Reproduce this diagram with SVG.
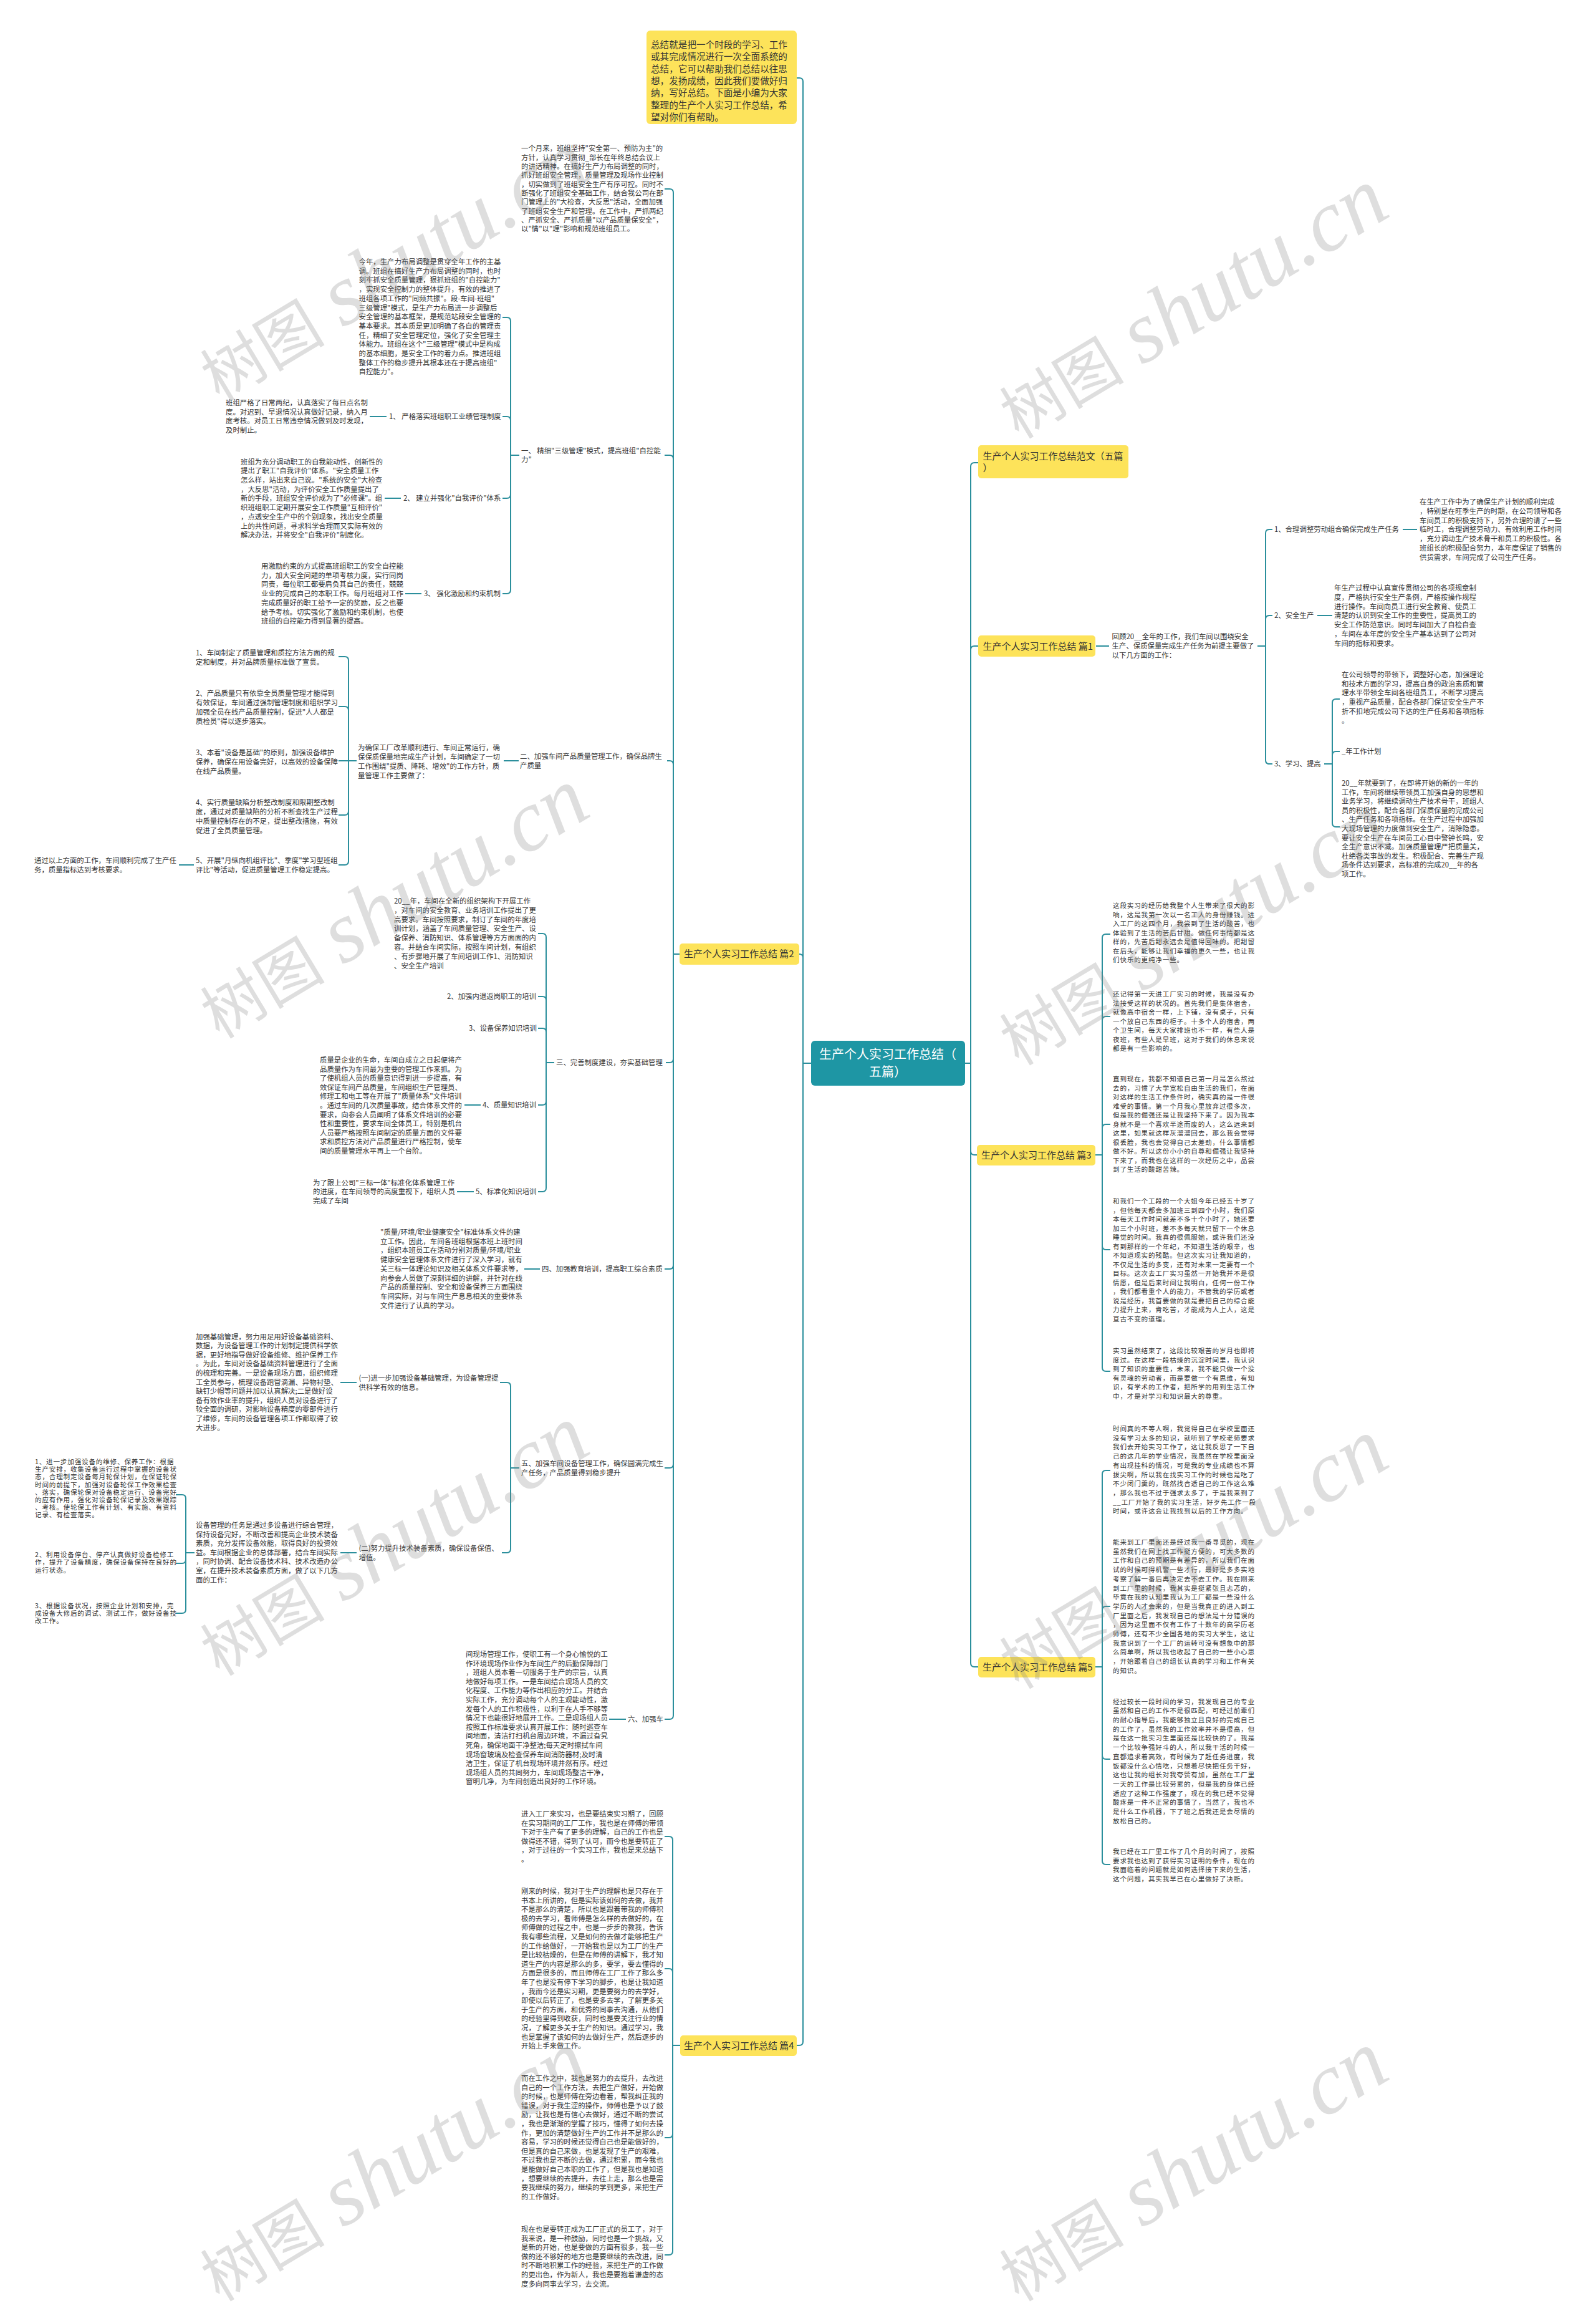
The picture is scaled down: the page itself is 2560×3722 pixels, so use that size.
<svg xmlns="http://www.w3.org/2000/svg" width="2560" height="3722" viewBox="0 0 2560 3722">
<style>
.p{font-family:"Noto Sans CJK SC","Noto Sans",sans-serif;font-size:11.4px;fill:#333}
.q{font-family:"Noto Sans CJK SC","Noto Sans",sans-serif;font-size:10.6px;letter-spacing:0.8px;fill:#333}
.m{font-family:"Noto Sans CJK SC","Noto Sans",sans-serif;font-size:15px;fill:#333}
.i{font-family:"Noto Sans CJK SC","Noto Sans",sans-serif;font-size:14.6px;fill:#333}
.r{font-family:"Noto Sans CJK SC","Noto Sans",sans-serif;font-size:20px;fill:#fff}
.y{fill:#fde35a}
.c{fill:none;stroke:#2b8f9c;stroke-width:2}
.wm{fill:#808080;fill-opacity:0.26}
.wa{font-family:"Noto Sans CJK SC",sans-serif;font-size:100px}
.wb{font-family:"Liberation Serif",serif;font-style:italic;font-size:140px}
</style>
<rect width="2560" height="3722" fill="#fff"/>
<g id="connectors" class="c">
<path d="M1301 1705H1288V131Q1288 125 1282 125H1278"/>
<path d="M1301 1705H1288V1536Q1288 1530 1282 1530"/>
<path d="M1301 1705H1288V3274Q1288 3280 1282 3280H1278"/>
<path d="M1548 1705H1557V748Q1557 742 1563 742H1569"/>
<path d="M1548 1705H1557V1042Q1557 1036 1563 1036H1569"/>
<path d="M1548 1705H1557V1846Q1557 1852 1563 1852H1567"/>
<path d="M1548 1705H1557V2667Q1557 2673 1563 2673H1569"/>
<path d="M1090 1530H1080V309Q1080 303 1074 303H1066"/>
<path d="M1090 1530H1080V736Q1080 730 1074 730H1066"/>
<path d="M1090 1530H1080V1226Q1080 1220 1074 1220H1070"/>
<path d="M1090 1530H1080V1698Q1080 1704 1074 1704H1068"/>
<path d="M1090 1530H1080V2029Q1080 2035 1074 2035H1066"/>
<path d="M1090 1530H1080V2348Q1080 2354 1074 2354H1066"/>
<path d="M1090 1530H1080V2751Q1080 2757 1074 2757H1066"/>
<path d="M833 730H819V515Q819 509 813 509H806"/>
<path d="M833 730H819V674Q819 668 813 668H806"/>
<path d="M833 730H819V793Q819 799 813 799H806"/>
<path d="M833 730H819V946Q819 952 813 952H806"/>
<path d="M620 668H593"/>
<path d="M643 799H617"/>
<path d="M676 952H650"/>
<path d="M832 1220H808"/>
<path d="M572 1220H559V1059Q559 1053 553 1053H543"/>
<path d="M572 1220H559V1139Q559 1133 553 1133H543"/>
<path d="M572 1220H543"/>
<path d="M572 1220H559V1301Q559 1307 553 1307H543"/>
<path d="M572 1220H559V1381Q559 1387 553 1387H543"/>
<path d="M311 1387H287"/>
<path d="M889 1704H876V1503Q876 1497 870 1497H863"/>
<path d="M889 1704H876V1604Q876 1598 870 1598H863"/>
<path d="M889 1704H876V1655Q876 1649 870 1649H863"/>
<path d="M889 1704H876V1766Q876 1772 870 1772H863"/>
<path d="M889 1704H876V1905Q876 1911 870 1911H863"/>
<path d="M771 1772H745"/>
<path d="M760 1911H733"/>
<path d="M866 2035H841"/>
<path d="M833 2354H819V2223Q819 2217 813 2217H802"/>
<path d="M833 2354H819V2484Q819 2490 813 2490H805"/>
<path d="M572 2217H546"/>
<path d="M572 2490H546"/>
<path d="M312 2490H298V2403Q298 2397 292 2397H282"/>
<path d="M312 2490H298V2501Q298 2507 292 2507H282"/>
<path d="M312 2490H298V2581Q298 2587 292 2587H282"/>
<path d="M1004 2757H977"/>
<path d="M1091 3280H1079V2951Q1079 2945 1073 2945H1066"/>
<path d="M1091 3280H1079V3163Q1079 3157 1073 3157H1066"/>
<path d="M1091 3280H1079V3422Q1079 3428 1073 3428H1066"/>
<path d="M1091 3280H1079V3610Q1079 3616 1073 3616H1066"/>
<path d="M1758 1036H1779"/>
<path d="M2017 1036H2030V855Q2030 849 2036 849H2041"/>
<path d="M2017 1036H2030V993Q2030 987 2036 987H2041"/>
<path d="M2017 1036H2030V1219Q2030 1225 2036 1225H2041"/>
<path d="M2250 849H2273"/>
<path d="M2113 987H2137"/>
<path d="M2124 1225H2137V1127Q2137 1121 2143 1121H2149"/>
<path d="M2124 1225H2137V1211Q2137 1205 2143 1205H2149"/>
<path d="M2124 1225H2137V1320Q2137 1326 2143 1326H2149"/>
<path d="M1757 1852H1768V1504Q1768 1498 1774 1498H1781"/>
<path d="M1757 1852H1768V1636Q1768 1630 1774 1630H1781"/>
<path d="M1757 1852H1768V1809Q1768 1803 1774 1803H1781"/>
<path d="M1757 1852H1768V1998Q1768 2004 1774 2004H1781"/>
<path d="M1757 1852H1768V2193Q1768 2199 1774 2199H1781"/>
<path d="M1757 2673H1768V2364Q1768 2358 1774 2358H1781"/>
<path d="M1757 2673H1768V2582Q1768 2576 1774 2576H1781"/>
<path d="M1757 2673H1768V2815Q1768 2821 1774 2821H1781"/>
<path d="M1757 2673H1768V2984Q1768 2990 1774 2990H1781"/>
</g>

<g id="root">
<rect x="1301" y="1669" width="247" height="72" rx="6" fill="#1e96a4"/>
<text class="r" text-anchor="middle" x="1424" y="1698">生产个人实习工作总结（<tspan x="1424" dy="28">五篇）</tspan></text>
</g>

<g id="intro">
<rect class="y" x="1037" y="49" width="241" height="150" rx="6"/>
<text class="i" x="1044" y="77"><tspan x="1044">总结就是把一个时段的学习、工作</tspan><tspan x="1044" dy="19.3">或其完成情况进行一次全面系统的</tspan><tspan x="1044" dy="19.3">总结，它可以帮助我们总结以往思</tspan><tspan x="1044" dy="19.3">想，发扬成绩，因此我们要做好归</tspan><tspan x="1044" dy="19.3">纳，写好总结。下面是小编为大家</tspan><tspan x="1044" dy="19.3">整理的生产个人实习工作总结，希</tspan><tspan x="1044" dy="19.3">望对你们有帮助。</tspan></text>
</g>

<g id="pian2">
<rect class="y" x="1090" y="1513" width="192" height="34" rx="5"/>
<text class="m" x="1097" y="1535">生产个人实习工作总结 篇2</text>
</g>

<g id="p2-intro">
<text class="p" x="836" y="242.3"><tspan x="836">一个月来，班组坚持"安全第一、预防为主"的</tspan><tspan x="836" dy="14.35">方针，认真学习贯彻_部长在年终总结会议上</tspan><tspan x="836" dy="14.35">的讲话精神。在搞好生产力布局调整的同时，</tspan><tspan x="836" dy="14.35">抓好班组安全管理，质量管理及现场作业控制</tspan><tspan x="836" dy="14.35">，切实做到了班组安全生产有序可控。同时不</tspan><tspan x="836" dy="14.35">断强化了班组安全基础工作，结合我公司在部</tspan><tspan x="836" dy="14.35">门管理上的"大检查，大反思"活动，全面加强</tspan><tspan x="836" dy="14.35">了班组安全生产和管理。在工作中，严抓两纪</tspan><tspan x="836" dy="14.35">、严抓安全、严抓质量"以产品质量保安全"，</tspan><tspan x="836" dy="14.35">以"情"以"理"影响和规范班组员工。</tspan></text>
</g>

<g id="s1">
<text class="p" x="836" y="727"><tspan x="836">一、 精细"三级管理"模式，提高班组"自控能</tspan><tspan x="836" dy="14">力"</tspan></text>
</g>
<g id="s1-p">
<text class="p" x="575.5" y="424"><tspan x="575.5">今年，生产力布局调整是贯穿全年工作的主基</tspan><tspan x="575.5" dy="14.7">调。班组在搞好生产力布局调整的同时，也时</tspan><tspan x="575.5" dy="14.7">刻牢抓安全质量管理，狠抓班组的"自控能力"</tspan><tspan x="575.5" dy="14.7">，实现安全控制力的整体提升，有效的推进了</tspan><tspan x="575.5" dy="14.7">班组各项工作的"同频共振"。段-车间-班组"</tspan><tspan x="575.5" dy="14.7">三级管理"模式，是生产力布局进一步调整后</tspan><tspan x="575.5" dy="14.7">安全管理的基本框架，是规范站段安全管理的</tspan><tspan x="575.5" dy="14.7">基本要求。其本质是更加明确了各自的管理责</tspan><tspan x="575.5" dy="14.7">任，精细了安全管理定位，强化了安全管理主</tspan><tspan x="575.5" dy="14.7">体能力。班组在这个"三级管理"模式中是构成</tspan><tspan x="575.5" dy="14.7">的基本细胞，是安全工作的着力点。推进班组</tspan><tspan x="575.5" dy="14.7">整体工作的稳步提升其根本还在于提高班组"</tspan><tspan x="575.5" dy="14.7">自控能力"。</tspan></text>
</g>
<g id="s1-1"><text class="p" x="624" y="672">1、 严格落实班组职工业绩管理制度</text></g>
<g id="s1-1p">
<text class="p" x="362" y="650"><tspan x="362">班组严格了日常两纪，认真落实了每日点名制</tspan><tspan x="362" dy="14.7">度。对迟到、早退情况认真做好记录，纳入月</tspan><tspan x="362" dy="14.7">度考核。对员工日常违章情况做到及时发现，</tspan><tspan x="362" dy="14.7">及时制止。</tspan></text>
</g>
<g id="s1-2"><text class="p" x="647" y="803">2、 建立并强化"自我评价"体系</text></g>
<g id="s1-2p">
<text class="p" x="386" y="744.6"><tspan x="386">班组为充分调动职工的自我能动性，创新性的</tspan><tspan x="386" dy="14.7">提出了职工"自我评价"体系。"安全质量工作</tspan><tspan x="386" dy="14.7">怎么样，站出来自己说。"系统的安全"大检查</tspan><tspan x="386" dy="14.7">，大反思"活动，为评价安全工作质量提出了</tspan><tspan x="386" dy="14.7">新的手段，班组安全评价成为了"必修课"。组</tspan><tspan x="386" dy="14.7">织班组职工定期开展安全工作质量"互相评价"</tspan><tspan x="386" dy="14.7">，点透安全生产中的个别现象，找出安全质量</tspan><tspan x="386" dy="14.7">上的共性问题，寻求科学合理而又实际有效的</tspan><tspan x="386" dy="14.7">解决办法，并将安全"自我评价"制度化。</tspan></text>
</g>
<g id="s1-3"><text class="p" x="680" y="956">3、 强化激励和约束机制</text></g>
<g id="s1-3p">
<text class="p" x="419" y="912"><tspan x="419">用激励约束的方式提高班组职工的安全自控能</tspan><tspan x="419" dy="14.7">力，加大安全问题的单项考核力度，实行同岗</tspan><tspan x="419" dy="14.7">同责，每位职工都要肩负其自己的责任，兢兢</tspan><tspan x="419" dy="14.7">业业的完成自己的本职工作。每月班组对工作</tspan><tspan x="419" dy="14.7">完成质量好的职工给予一定的奖励，反之也要</tspan><tspan x="419" dy="14.7">给予考核。切实强化了激励和约束机制，也使</tspan><tspan x="419" dy="14.7">班组的自控能力得到显著的提高。</tspan></text>
</g>

<g id="s2">
<text class="p" x="834" y="1217"><tspan x="834">二、加强车间产品质量管理工作，确保品牌生</tspan><tspan x="834" dy="15">产质量</tspan></text>
</g>
<g id="s2-p">
<text class="p" x="574" y="1203"><tspan x="574">为确保工厂改革顺利进行、车间正常运行，确</tspan><tspan x="574" dy="15">保保质保量地完成生产计划，车间确定了一切</tspan><tspan x="574" dy="15">工作围绕"提质、降耗、增效"的工作方针，质</tspan><tspan x="574" dy="15">量管理工作主要做了：</tspan></text>
</g>
<g id="s2-1"><text class="p" x="314" y="1051"><tspan x="314">1、车间制定了质量管理和质控方法方面的规</tspan><tspan x="314" dy="15.3">定和制度，并对品牌质量标准做了宣贯。</tspan></text></g>
<g id="s2-2"><text class="p" x="314" y="1116"><tspan x="314">2、产品质量只有依靠全员质量管理才能得到</tspan><tspan x="314" dy="15">有效保证，车间通过强制管理制度和组织学习</tspan><tspan x="314" dy="15">加强全员在线产品质量控制，促进"人人都是</tspan><tspan x="314" dy="15">质检员"得以逐步落实。</tspan></text></g>
<g id="s2-3"><text class="p" x="314" y="1211"><tspan x="314">3、本着"设备是基础"的原则，加强设备维护</tspan><tspan x="314" dy="15">保养，确保在用设备完好，以高效的设备保障</tspan><tspan x="314" dy="15">在线产品质量。</tspan></text></g>
<g id="s2-4"><text class="p" x="314" y="1291"><tspan x="314">4、实行质量缺陷分析整改制度和限期整改制</tspan><tspan x="314" dy="15">度，通过对质量缺陷的分析不断查找生产过程</tspan><tspan x="314" dy="15">中质量控制存在的不足，提出整改措施，有效</tspan><tspan x="314" dy="15">促进了全员质量管理。</tspan></text></g>
<g id="s2-5"><text class="p" x="314" y="1384"><tspan x="314">5、开展"月纵向机组评比"、季度"学习型班组</tspan><tspan x="314" dy="15">评比"等活动，促进质量管理工作稳定提高。</tspan></text></g>
<g id="s2-5p"><text class="p" x="55" y="1384"><tspan x="55">通过以上方面的工作，车间顺利完成了生产任</tspan><tspan x="55" dy="15">务，质量指标达到考核要求。</tspan></text></g>

<g id="s3"><text class="p" x="892" y="1708">三、完善制度建设，夯实基础管理</text></g>
<g id="s3-1">
<text class="p" x="632" y="1449"><tspan x="632">20__年，车间在全新的组织架构下开展工作</tspan><tspan x="632" dy="14.8">，对车间的安全教育、业务培训工作提出了更</tspan><tspan x="632" dy="14.8">高要求。车间按照要求，制订了车间的年度培</tspan><tspan x="632" dy="14.8">训计划，涵盖了车间质量管理、安全生产、设</tspan><tspan x="632" dy="14.8">备保养、消防知识、体系管理等方方面面的内</tspan><tspan x="632" dy="14.8">容。并结合车间实际，按照车间计划，有组织</tspan><tspan x="632" dy="14.8">、有步骤地开展了车间培训工作1、消防知识</tspan><tspan x="632" dy="14.8">、安全生产培训</tspan></text>
</g>
<g id="s3-2"><text class="p" x="717" y="1602">2、加强内退返岗职工的培训</text></g>
<g id="s3-3"><text class="p" x="752" y="1653">3、设备保养知识培训</text></g>
<g id="s3-4"><text class="p" x="774" y="1776">4、质量知识培训</text></g>
<g id="s3-4p">
<text class="p" x="513" y="1704"><tspan x="513">质量是企业的生命，车间自成立之日起便将产</tspan><tspan x="513" dy="14.6">品质量作为车间最为重要的管理工作来抓。为</tspan><tspan x="513" dy="14.6">了使机组人员的质量意识得到进一步提高，有</tspan><tspan x="513" dy="14.6">效保证车间产品质量，车间组织生产管理员、</tspan><tspan x="513" dy="14.6">修理工和电工等在开展了"质量体系"文件培训</tspan><tspan x="513" dy="14.6">。通过车间的几次质量事故，结合体系文件的</tspan><tspan x="513" dy="14.6">要求，向参会人员阐明了体系文件培训的必要</tspan><tspan x="513" dy="14.6">性和重要性，要求车间全体员工，特别是机台</tspan><tspan x="513" dy="14.6">人员要严格按照车间制定的质量方面的文件要</tspan><tspan x="513" dy="14.6">求和质控方法对产品质量进行严格控制，使车</tspan><tspan x="513" dy="14.6">间的质量管理水平再上一个台阶。</tspan></text>
</g>
<g id="s3-5"><text class="p" x="763" y="1915">5、标准化知识培训</text></g>
<g id="s3-5p">
<text class="p" x="502" y="1901"><tspan x="502">为了跟上公司"三标一体"标准化体系管理工作</tspan><tspan x="502" dy="14.3">的进度，在车间领导的高度重视下，组织人员</tspan><tspan x="502" dy="14.3">完成了车间</tspan></text>
</g>

<g id="s4"><text class="p" x="869" y="2039">四、加强教育培训，提高职工综合素质</text></g>
<g id="s4-p">
<text class="p" x="610" y="1980"><tspan x="610">"质量/环境/职业健康安全"标准体系文件的建</tspan><tspan x="610" dy="14.7">立工作。因此，车间各班组根据本班上班时间</tspan><tspan x="610" dy="14.7">，组织本班员工在活动分别对质量/环境/职业</tspan><tspan x="610" dy="14.7">健康安全管理体系文件进行了深入学习，就有</tspan><tspan x="610" dy="14.7">关三标一体理论知识及相关体系文件要求等，</tspan><tspan x="610" dy="14.7">向参会人员做了深刻详细的讲解，并针对在线</tspan><tspan x="610" dy="14.7">产品的质量控制、安全和设备保养三方面围绕</tspan><tspan x="610" dy="14.7">车间实际，对与车间生产息息相关的重要体系</tspan><tspan x="610" dy="14.7">文件进行了认真的学习。</tspan></text>
</g>

<g id="s5">
<text class="p" x="836" y="2351"><tspan x="836">五、加强车间设备管理工作，确保圆满完成生</tspan><tspan x="836" dy="14.5">产任务，产品质量得到稳步提升</tspan></text>
</g>
<g id="s5-1"><text class="p" x="575.5" y="2214"><tspan x="575.5">(一)进一步加强设备基础管理，为设备管理提</tspan><tspan x="575.5" dy="14.5">供科学有效的信息。</tspan></text></g>
<g id="s5-1p">
<text class="p" x="314" y="2147.5"><tspan x="314">加强基础管理，努力用足用好设备基础资料、</tspan><tspan x="314" dy="14.6">数据，为设备管理工作的计划制定提供科学依</tspan><tspan x="314" dy="14.6">据，更好地指导做好设备维修、维护保养工作</tspan><tspan x="314" dy="14.6">。为此，车间对设备基础资料管理进行了全面</tspan><tspan x="314" dy="14.6">的梳理和完善。一是设备现场方面，组织修理</tspan><tspan x="314" dy="14.6">工全员参与，梳理设备跑冒滴漏、异物衬垫、</tspan><tspan x="314" dy="14.6">缺钉少帽等问题并加以认真解决;二是做好设</tspan><tspan x="314" dy="14.6">备有效作业率的提升，组织人员对设备进行了</tspan><tspan x="314" dy="14.6">较全面的调研，对影响设备精度的零部件进行</tspan><tspan x="314" dy="14.6">了维修，车间的设备管理各项工作都取得了较</tspan><tspan x="314" dy="14.6">大进步。</tspan></text>
</g>
<g id="s5-2"><text class="p" x="575.5" y="2487"><tspan x="575.5">(二)努力提升技术装备素质，确保设备保值、</tspan><tspan x="575.5" dy="14.5">增值。</tspan></text></g>
<g id="s5-2p">
<text class="p" x="314" y="2450"><tspan x="314">设备管理的任务是通过多设备进行综合管理，</tspan><tspan x="314" dy="14.6">保持设备完好，不断改善和提高企业技术装备</tspan><tspan x="314" dy="14.6">素质，充分发挥设备效能，取得良好的投资效</tspan><tspan x="314" dy="14.6">益。车间根据企业的总体部署，结合车间实际</tspan><tspan x="314" dy="14.6">，同时协调、配合设备技术科、技术改造办公</tspan><tspan x="314" dy="14.6">室，在提升技术装备素质方面，做了以下几方</tspan><tspan x="314" dy="14.6">面的工作：</tspan></text>
</g>
<g id="s5-2-1">
<text class="q" x="56" y="2348"><tspan x="56">1、进一步加强设备的维修、保养工作：根据</tspan><tspan x="56" dy="12.2">生产安排，收集设备运行过程中掌握的设备状</tspan><tspan x="56" dy="12.2">态，合理制定设备每月轮保计划，在保证轮保</tspan><tspan x="56" dy="12.2">时间的前提下，加强对设备轮保工作效果检查</tspan><tspan x="56" dy="12.2">、落实，确保轮保对设备稳定运行、设备完好</tspan><tspan x="56" dy="12.2">的应有作用，强化对设备轮保记录及效果跟踪</tspan><tspan x="56" dy="12.2">、考核。使轮保工作有计划、有实施、有资料</tspan><tspan x="56" dy="12.2">记录、有检查落实。</tspan></text>
</g>
<g id="s5-2-2">
<text class="q" x="56" y="2497"><tspan x="56">2、利用设备停台、停产认真做好设备检修工</tspan><tspan x="56" dy="12.4">作，提升了设备精度，确保设备保持在良好的</tspan><tspan x="56" dy="12.4">运行状态。</tspan></text>
</g>
<g id="s5-2-3">
<text class="q" x="56" y="2579"><tspan x="56">3、根据设备状况，按照企业计划和安排，完</tspan><tspan x="56" dy="12.2">成设备大修后的调试、测试工作，做好设备技</tspan><tspan x="56" dy="12.2">改工作。</tspan></text>
</g>

<g id="s6"><text class="p" x="1007" y="2761">六、加强车</text></g>
<g id="s6-p">
<text class="p" x="747" y="2657"><tspan x="747">间现场管理工作，使职工有一个身心愉悦的工</tspan><tspan x="747" dy="14.6">作环境现场作业作为车间生产的后勤保障部门</tspan><tspan x="747" dy="14.6">，班组人员本着一切服务于生产的宗旨，认真</tspan><tspan x="747" dy="14.6">地做好每项工作。一是车间结合现场人员的文</tspan><tspan x="747" dy="14.6">化程度、工作能力等作出相应的分工。并结合</tspan><tspan x="747" dy="14.6">实际工作，充分调动每个人的主观能动性，激</tspan><tspan x="747" dy="14.6">发每个人的工作积极性，以利于在人手不够等</tspan><tspan x="747" dy="14.6">情况下也能很好地展开工作。二是现场组人员</tspan><tspan x="747" dy="14.6">按照工作标准要求认真开展工作：随时巡查车</tspan><tspan x="747" dy="14.6">间地面，清洁打扫机台周边环境，不漏过旮旯</tspan><tspan x="747" dy="14.6">死角，确保地面干净整洁;每天定时擦拭车间</tspan><tspan x="747" dy="14.6">现场窗玻璃及检查保养车间消防器材;及时清</tspan><tspan x="747" dy="14.6">洁卫生，保证了机台现场环境井然有序。经过</tspan><tspan x="747" dy="14.6">现场组人员的共同努力，车间现场整洁干净，</tspan><tspan x="747" dy="14.6">窗明几净，为车间创造出良好的工作环境。</tspan></text>
</g>

<g id="pian4">
<rect class="y" x="1091" y="3264" width="187" height="33" rx="5"/>
<text class="m" x="1097" y="3285.5">生产个人实习工作总结 篇4</text>
</g>
<g id="p4-1">
<text class="p" x="836" y="2913"><tspan x="836">进入工厂来实习，也是要结束实习期了，回顾</tspan><tspan x="836" dy="14.5">在实习期间的工厂工作，我也是在师傅的带领</tspan><tspan x="836" dy="14.5">下对于生产有了更多的理解，自己的工作也是</tspan><tspan x="836" dy="14.5">做得还不错，得到了认可，而今也是要转正了</tspan><tspan x="836" dy="14.5">，对于过往的一个实习工作，我也是来总结下</tspan><tspan x="836" dy="14.5">。</tspan></text>
</g>
<g id="p4-2">
<text class="p" x="836" y="3037"><tspan x="836">刚来的时候，我对于生产的理解也是只存在于</tspan><tspan x="836" dy="14.6">书本上所讲的，但是实际该如何的去做，我并</tspan><tspan x="836" dy="14.6">不是那么的清楚，所以也是跟着带我的师傅积</tspan><tspan x="836" dy="14.6">极的去学习，看师傅是怎么样的去做好的，在</tspan><tspan x="836" dy="14.6">师傅做的过程之中，也是一步步的教我，告诉</tspan><tspan x="836" dy="14.6">我有哪些流程，又是如何的去做才能够把生产</tspan><tspan x="836" dy="14.6">的工作给做好，一开始我也是以为工厂的生产</tspan><tspan x="836" dy="14.6">是比较枯燥的，但是在师傅的讲解下，我才知</tspan><tspan x="836" dy="14.6">道生产的内容是那么的多，要学，要去懂得的</tspan><tspan x="836" dy="14.6">方面是很多的，而且师傅在工厂工作了那么多</tspan><tspan x="836" dy="14.6">年了也是没有停下学习的脚步，也是让我知道</tspan><tspan x="836" dy="14.6">，我而今还是实习期，更是要努力的去学好，</tspan><tspan x="836" dy="14.6">即使以后转正了，也是要多去学，了解更多关</tspan><tspan x="836" dy="14.6">于生产的方面，和优秀的同事去沟通，从他们</tspan><tspan x="836" dy="14.6">的经验里得到收获，同时也是要关注行业的情</tspan><tspan x="836" dy="14.6">况，了解更多关于生产的知识。通过学习，我</tspan><tspan x="836" dy="14.6">也是掌握了该如何的去做好生产，然后逐步的</tspan><tspan x="836" dy="14.6">开始上手来做工作。</tspan></text>
</g>
<g id="p4-3">
<text class="p" x="836" y="3337"><tspan x="836">而在工作之中，我也是努力的去提升，去改进</tspan><tspan x="836" dy="14.6">自己的一个工作方法，去把生产做好，开始做</tspan><tspan x="836" dy="14.6">的时候，也是师傅在旁边看着，帮我纠正我的</tspan><tspan x="836" dy="14.6">错误，对于我生涩的操作，师傅也是予以了鼓</tspan><tspan x="836" dy="14.6">励，让我也是有信心去做好，通过不断的尝试</tspan><tspan x="836" dy="14.6">，我也是渐渐的掌握了技巧，懂得了如何去操</tspan><tspan x="836" dy="14.6">作，更加的清楚做好生产的工作并不是那么的</tspan><tspan x="836" dy="14.6">容易，学习的时候还觉得自己也是能做好的，</tspan><tspan x="836" dy="14.6">但是真的自己来做，也是发现了生产的艰难，</tspan><tspan x="836" dy="14.6">不过我也是不断的去做，通过积累，而今我也</tspan><tspan x="836" dy="14.6">是能做好自己本职的工作了，但是我也是知道</tspan><tspan x="836" dy="14.6">，想要继续的去提升，去往上走，那么也是需</tspan><tspan x="836" dy="14.6">要我继续的努力，继续的学到更多，来把生产</tspan><tspan x="836" dy="14.6">的工作做好。</tspan></text>
</g>
<g id="p4-4">
<text class="p" x="836" y="3579"><tspan x="836">现在也是要转正成为工厂正式的员工了，对于</tspan><tspan x="836" dy="14.6">我来说，是一种鼓励，同时也是一个挑战，又</tspan><tspan x="836" dy="14.6">是新的开始，也是要做的方面有很多，我一些</tspan><tspan x="836" dy="14.6">做的还不够好的地方也是要继续的去改进，同</tspan><tspan x="836" dy="14.6">时不断地积累工作的经验，来把生产的工作做</tspan><tspan x="836" dy="14.6">的更出色，作为新人，我也是要抱着谦虚的态</tspan><tspan x="836" dy="14.6">度多向同事去学习，去交流。</tspan></text>
</g>

<g id="fanwen">
<rect class="y" x="1569" y="714" width="241" height="53" rx="5"/>
<text class="m" x="1576.5" y="737"><tspan x="1576.5">生产个人实习工作总结范文（五篇</tspan><tspan x="1576.5" dy="18.5">）</tspan></text>
</g>

<g id="pian1">
<rect class="y" x="1569" y="1019" width="188" height="34" rx="5"/>
<text class="m" x="1576.5" y="1041.5">生产个人实习工作总结 篇1</text>
</g>
<g id="p1-intro">
<text class="p" x="1783.6" y="1025"><tspan x="1783.6">回顾20__全年的工作，我们车间以围绕安全</tspan><tspan x="1783.6" dy="15">生产、保质保量完成生产任务为前提主要做了</tspan><tspan x="1783.6" dy="15">以下几方面的工作：</tspan></text>
</g>
<g id="p1-1"><text class="p" x="2044" y="853">1、合理调整劳动组合确保完成生产任务</text></g>
<g id="p1-1p">
<text class="p" x="2277" y="809"><tspan x="2277">在生产工作中为了确保生产计划的顺利完成</tspan><tspan x="2277" dy="14.75">，特别是在旺季生产的时期，在公司领导和各</tspan><tspan x="2277" dy="14.75">车间员工的积极支持下，另外合理的请了一些</tspan><tspan x="2277" dy="14.75">临时工，合理调整劳动力、有效利用工作时间</tspan><tspan x="2277" dy="14.75">，充分调动生产技术骨干和员工的积极性。各</tspan><tspan x="2277" dy="14.75">班组长的积极配合努力，本年度保证了销售的</tspan><tspan x="2277" dy="14.75">供货需求，车间完成了公司生产任务。</tspan></text>
</g>
<g id="p1-2"><text class="p" x="2044" y="991">2、安全生产</text></g>
<g id="p1-2p">
<text class="p" x="2140" y="947"><tspan x="2140">年生产过程中认真宣传贯彻公司的各项规章制</tspan><tspan x="2140" dy="14.75">度，严格执行安全生产条例，严格按操作规程</tspan><tspan x="2140" dy="14.75">进行操作。车间向员工进行安全教育、使员工</tspan><tspan x="2140" dy="14.75">清楚的认识到安全工作的重要性，提高员工的</tspan><tspan x="2140" dy="14.75">安全工作防范意识。同时车间加大了自检自查</tspan><tspan x="2140" dy="14.75">，车间在本年度的安全生产基本达到了公司对</tspan><tspan x="2140" dy="14.75">车间的指标和要求。</tspan></text>
</g>
<g id="p1-3"><text class="p" x="2044" y="1229">3、学习、提高</text></g>
<g id="p1-3a">
<text class="p" x="2152" y="1086"><tspan x="2152">在公司领导的带领下，调整好心态，加强理论</tspan><tspan x="2152" dy="14.7">和技术方面的学习，提高自身的政治素质和管</tspan><tspan x="2152" dy="14.7">理水平带领全车间各班组员工，不断学习提高</tspan><tspan x="2152" dy="14.7">，重视产品质量，配合各部门保证安全生产不</tspan><tspan x="2152" dy="14.7">折不扣地完成公司下达的生产任务和各项指标</tspan><tspan x="2152" dy="14.7">。</tspan></text>
</g>
<g id="p1-3b"><text class="p" x="2152" y="1209">_年工作计划</text></g>
<g id="p1-3c">
<text class="p" x="2152" y="1260"><tspan x="2152">20__年就要到了，在即将开始的新的一年的</tspan><tspan x="2152" dy="14.6">工作，车间将继续带领员工加强自身的思想和</tspan><tspan x="2152" dy="14.6">业务学习，将继续调动生产技术骨干，班组人</tspan><tspan x="2152" dy="14.6">员的积极性，配合各部门保质保量的完成公司</tspan><tspan x="2152" dy="14.6">、生产任务和各项指标。在生产过程中加强加</tspan><tspan x="2152" dy="14.6">大现场管理的力度做到安全生产，消除隐患。</tspan><tspan x="2152" dy="14.6">要让安全生产在车间员工心目中警钟长鸣，安</tspan><tspan x="2152" dy="14.6">全生产意识不减。加强质量管理严把质量关，</tspan><tspan x="2152" dy="14.6">杜绝各类事故的发生。积极配合、完善生产现</tspan><tspan x="2152" dy="14.6">场条件达到要求，高标准的完成20__年的各</tspan><tspan x="2152" dy="14.6">项工作。</tspan></text>
</g>

<g id="pian3">
<rect class="y" x="1567" y="1836" width="190" height="33" rx="5"/>
<text class="m" x="1574" y="1857.5">生产个人实习工作总结 篇3</text>
</g>
<g id="p3-1">
<text class="q" x="1785" y="1456"><tspan x="1785">这段实习的经历给我整个人生带来了很大的影</tspan><tspan x="1785" dy="14.5">响，这是我第一次以一名工人的身份赚钱。进</tspan><tspan x="1785" dy="14.5">入工厂的这四个月，我尝到了生活的酸苦，也</tspan><tspan x="1785" dy="14.5">体验到了生活的苦后甘甜。做任何事情都是这</tspan><tspan x="1785" dy="14.5">样的，先苦后甜永远会是值得回味的。把甜留</tspan><tspan x="1785" dy="14.5">在后头，能够让我们幸福的更久一些，也让我</tspan><tspan x="1785" dy="14.5">们快乐的更纯净一些。</tspan></text>
</g>
<g id="p3-2">
<text class="q" x="1785" y="1598"><tspan x="1785">还记得第一天进工厂实习的时候，我是没有办</tspan><tspan x="1785" dy="14.5">法接受这样的状况的。首先我们是集体宿舍，</tspan><tspan x="1785" dy="14.5">就像高中宿舍一样，上下铺，没有桌子，只有</tspan><tspan x="1785" dy="14.5">一个放自己东西的柜子。十多个人的宿舍，两</tspan><tspan x="1785" dy="14.5">个卫生间，每天大家排班也不一样，有些人是</tspan><tspan x="1785" dy="14.5">夜班，有些人是早班，这对于我们的休息来说</tspan><tspan x="1785" dy="14.5">都是有一些影响的。</tspan></text>
</g>
<g id="p3-3">
<text class="q" x="1785" y="1734"><tspan x="1785">直到现在，我都不知道自己第一月是怎么熬过</tspan><tspan x="1785" dy="14.5">去的，习惯了大学宽松自由生活的我们，在面</tspan><tspan x="1785" dy="14.5">对这样的生活工作条件时，确实真的是一件很</tspan><tspan x="1785" dy="14.5">难受的事情。第一个月我心里放弃过很多次，</tspan><tspan x="1785" dy="14.5">但是我的倔强还是让我坚持下来了。因为我本</tspan><tspan x="1785" dy="14.5">身就不是一个喜欢半途而废的人，这么远来到</tspan><tspan x="1785" dy="14.5">这里，如果就这样灰溜溜回去，那么我会觉得</tspan><tspan x="1785" dy="14.5">很丢脸，我也会觉得自己太差劲，什么事情都</tspan><tspan x="1785" dy="14.5">做不好。所以这份小小的自尊和倔强让我坚持</tspan><tspan x="1785" dy="14.5">下来了，而我也在这样的一次经历之中，品尝</tspan><tspan x="1785" dy="14.5">到了生活的酸甜苦辣。</tspan></text>
</g>
<g id="p3-4">
<text class="q" x="1785" y="1930"><tspan x="1785">和我们一个工段的一个大姐今年已经五十岁了</tspan><tspan x="1785" dy="14.5">，但他每天都会多加班三到四个小时，我们原</tspan><tspan x="1785" dy="14.5">本每天工作时间就差不多十个小时了，她还要</tspan><tspan x="1785" dy="14.5">加三个小时班，差不多每天就只留下一个休息</tspan><tspan x="1785" dy="14.5">睡觉的时间。我真的很佩服她，或许我们还没</tspan><tspan x="1785" dy="14.5">有到那样的一个年纪，不知道生活的艰辛，也</tspan><tspan x="1785" dy="14.5">不知道现实的残酷。但这次实习让我知道的，</tspan><tspan x="1785" dy="14.5">不仅是生活的多变，还有对未来一定要有一个</tspan><tspan x="1785" dy="14.5">目标。这次去工厂实习虽然一开始我并不是很</tspan><tspan x="1785" dy="14.5">情愿，但是后来时间让我明白，任何一份工作</tspan><tspan x="1785" dy="14.5">，我们都看重个人的能力，不管我的学历或者</tspan><tspan x="1785" dy="14.5">说是经历，我首要做的就是要把自己的综合能</tspan><tspan x="1785" dy="14.5">力提升上来，肯吃苦，才能成为人上人，这是</tspan><tspan x="1785" dy="14.5">亘古不变的道理。</tspan></text>
</g>
<g id="p3-5">
<text class="q" x="1785" y="2170"><tspan x="1785">实习虽然结束了，这段比较艰苦的岁月也即将</tspan><tspan x="1785" dy="14.5">度过。在这样一段枯燥的沉淀时间里，我认识</tspan><tspan x="1785" dy="14.5">到了知识的重要性，未来，我不能只做一个没</tspan><tspan x="1785" dy="14.5">有灵魂的劳动者，而是要做一个有思维，有知</tspan><tspan x="1785" dy="14.5">识，有学术的工作者，把所学的用到生活工作</tspan><tspan x="1785" dy="14.5">中，才是对学习和知识最大的尊重。</tspan></text>
</g>

<g id="pian5">
<rect class="y" x="1569" y="2657" width="188" height="33" rx="5"/>
<text class="m" x="1576" y="2679">生产个人实习工作总结 篇5</text>
</g>
<g id="p5-1">
<text class="q" x="1785" y="2295"><tspan x="1785">时间真的不等人啊，我觉得自己在学校里面还</tspan><tspan x="1785" dy="14.7">没有学习太多的知识，就听到了学校老师要求</tspan><tspan x="1785" dy="14.7">我们去开始实习工作了，这让我反思了一下自</tspan><tspan x="1785" dy="14.7">己的这几年的学业情况，我虽然在学校里面没</tspan><tspan x="1785" dy="14.7">有出现挂科的情况，可是我的专业成绩也不算</tspan><tspan x="1785" dy="14.7">拔尖啊，所以我在找实习工作的时候也是吃了</tspan><tspan x="1785" dy="14.7">不少闭门羹的，既然找合适自己的工作这么难</tspan><tspan x="1785" dy="14.7">，那么我也不过于强求太多了，于是我来到了</tspan><tspan x="1785" dy="14.7">__工厂开始了我的实习生活，好歹先工作一段</tspan><tspan x="1785" dy="14.7">时间，或许这会让我找到以后的工作方向。</tspan></text>
</g>
<g id="p5-2">
<text class="q" x="1785" y="2477"><tspan x="1785">能来到工厂里面还是经过我一番寻觅的，现在</tspan><tspan x="1785" dy="14.7">虽然我们在网上找工作挺方便的，可大多数的</tspan><tspan x="1785" dy="14.7">工作和自己的预期是有差异的，所以我们在面</tspan><tspan x="1785" dy="14.7">试的时候可得机警一些才行，最好是多多实地</tspan><tspan x="1785" dy="14.7">考察了解一番后再决定去不去工作。我在刚来</tspan><tspan x="1785" dy="14.7">到工厂里的时候，我其实是挺紧张且忐忑的，</tspan><tspan x="1785" dy="14.7">毕竟在我的认知里我认为工厂都是一些没什么</tspan><tspan x="1785" dy="14.7">学历的人才会来的，但是当我真正的进入到工</tspan><tspan x="1785" dy="14.7">厂里面之后，我发现自己的想法是十分错误的</tspan><tspan x="1785" dy="14.7">，因为这里面不仅有工作了十数年的高学历老</tspan><tspan x="1785" dy="14.7">师傅，还有不少全国各地的实习大学生，这让</tspan><tspan x="1785" dy="14.7">我意识到了一个工厂的运转可没有想象中的那</tspan><tspan x="1785" dy="14.7">么简单啊，所以我也收起了自己的一些小心思</tspan><tspan x="1785" dy="14.7">，开始跟着自己的组长认真的学习和工作有关</tspan><tspan x="1785" dy="14.7">的知识。</tspan></text>
</g>
<g id="p5-3">
<text class="q" x="1785" y="2732.6"><tspan x="1785">经过较长一段时间的学习，我发现自己的专业</tspan><tspan x="1785" dy="14.7">虽然和自己的工作不是很匹配，可经过前辈们</tspan><tspan x="1785" dy="14.7">的耐心指导后，我能够独立且良好的完成自己</tspan><tspan x="1785" dy="14.7">的工作了，虽然我的工作效率并不是很高，但</tspan><tspan x="1785" dy="14.7">是在这一批实习生里面还是比较快的了。我是</tspan><tspan x="1785" dy="14.7">一个比较争强好斗的人，所以我干活的时候一</tspan><tspan x="1785" dy="14.7">直都追求着高效，有时候为了赶任务进度，我</tspan><tspan x="1785" dy="14.7">饭都没什么心情吃，只想着尽快把任务干好，</tspan><tspan x="1785" dy="14.7">这也让我的组长对我夸赞有加，虽然在工厂里</tspan><tspan x="1785" dy="14.7">一天的工作是比较劳累的，但是我的身体已经</tspan><tspan x="1785" dy="14.7">适应了这种工作强度了，现在的我已经不觉得</tspan><tspan x="1785" dy="14.7">酸疼是一件不正常的事情了，当然了，我也不</tspan><tspan x="1785" dy="14.7">是什么工作机器，下了班之后我还是会尽情的</tspan><tspan x="1785" dy="14.7">放松自己的。</tspan></text>
</g>
<g id="p5-4">
<text class="q" x="1785" y="2973"><tspan x="1785">我已经在工厂里工作了几个月的时间了，按照</tspan><tspan x="1785" dy="14.7">要求我也达到了获得实习证明的条件，现在的</tspan><tspan x="1785" dy="14.7">我面临着的问题就是如何选择接下来的生活，</tspan><tspan x="1785" dy="14.7">这个问题，其实我早已在心里做好了决断。</tspan></text>
</g>

<g id="watermark" class="wm">
<text transform="translate(352 645) rotate(-31)"><tspan class="wa">树图</tspan><tspan class="wb" dx="30">shutu.cn</tspan></text>
<text transform="translate(352 1667) rotate(-31)"><tspan class="wa">树图</tspan><tspan class="wb" dx="30">shutu.cn</tspan></text>
<text transform="translate(352 2689) rotate(-31)"><tspan class="wa">树图</tspan><tspan class="wb" dx="30">shutu.cn</tspan></text>
<text transform="translate(352 3692) rotate(-31)"><tspan class="wa">树图</tspan><tspan class="wb" dx="30">shutu.cn</tspan></text>
<text transform="translate(1634 705) rotate(-31)"><tspan class="wa">树图</tspan><tspan class="wb" dx="30">shutu.cn</tspan></text>
<text transform="translate(1634 1710) rotate(-31)"><tspan class="wa">树图</tspan><tspan class="wb" dx="30">shutu.cn</tspan></text>
<text transform="translate(1634 2710) rotate(-31)"><tspan class="wa">树图</tspan><tspan class="wb" dx="30">shutu.cn</tspan></text>
<text transform="translate(1634 3692) rotate(-31)"><tspan class="wa">树图</tspan><tspan class="wb" dx="30">shutu.cn</tspan></text>
</g>
</svg>
